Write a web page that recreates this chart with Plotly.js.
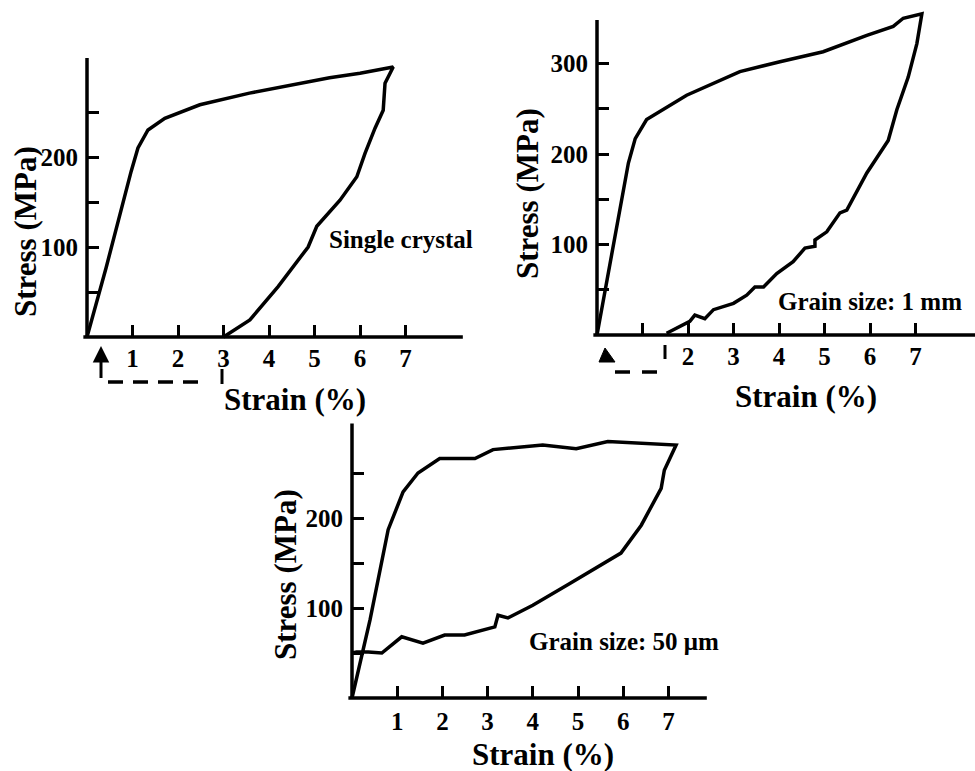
<!DOCTYPE html>
<html>
<head>
<meta charset="utf-8">
<script src="https://cdn.plot.ly/plotly-3.0.1.min.js"></script>
<style>html,body{margin:0;padding:0;background:#fff;}#chart{width:975px;height:771px;}</style>
</head>
<body>
<div id="chart"></div>
<script>
// ---------- DATA ----------
// Single crystal
const scLoadStrain   = [0, 0.42, 0.97, 1.12, 1.34, 1.71, 2.48, 3.57, 5.33, 6.0, 6.73];
const scLoadStress   = [0, 77, 184, 210, 230, 243, 258, 271, 288, 293, 300];
const scUnloadStrain = [6.73, 6.55, 6.51, 6.33, 6.11, 5.93, 5.56, 5.05, 4.86, 4.2, 3.58, 3.0];
const scUnloadStress = [300, 282, 252, 232, 204, 178, 152, 123, 100, 56, 19, 0];
// Grain size 1 mm
const mmLoadStrain   = [0, 0.37, 0.69, 0.84, 1.09, 1.97, 3.14, 4.02, 4.97, 5.93, 6.51, 6.73, 7.14];
const mmLoadStress   = [0, 101, 190, 217, 238, 265, 291, 302, 313, 331, 341, 350, 355];
const mmUnloadStrain = [7.14, 7.03, 6.84, 6.59, 6.40, 5.93, 5.49, 5.34, 5.05, 4.79, 4.79, 4.57, 4.31, 3.95, 3.66, 3.47, 3.29, 3.0, 2.56, 2.37, 2.15, 2.04, 1.53];
const mmUnloadStress = [355, 322, 285, 249, 215, 179, 138, 135, 114, 105, 98, 96, 81, 68, 53, 53, 44, 35, 28, 18, 22, 15, 2];
// Grain size 50 um
const umLoadStrain   = [0, 0.40, 0.80, 1.13, 1.46, 1.94, 2.72, 3.12, 4.22, 4.96, 5.66, 7.17];
const umLoadStress   = [0, 87, 187, 229, 250, 266, 266, 276, 281, 277, 285, 281];
const umUnloadStrain = [7.17, 6.91, 6.84, 6.40, 5.95, 4.81, 4.00, 3.45, 3.23, 3.16, 2.49, 2.05, 1.57, 1.10, 0.66, 0.36, 0.10, 0];
const umUnloadStress = [281, 253, 233, 192, 161, 127, 103, 89, 92, 79, 70, 70, 61, 68, 50, 51, 51, 50];

// Ticks
const strainTickVals = [1, 2, 3, 4, 5, 6, 7];
const p1StrainTickText = ['1', '2', '3', '4', '5', '6', '7'];
const p2StrainTickText = ['', '2', '3', '4', '5', '6', '7'];
const p3StrainTickText = ['1', '2', '3', '4', '5', '6', '7'];
const p1StressTickVals = [50, 100, 150, 200, 250];
const p1StressTickText = ['', '100', '', '200', ''];
const p2StressTickVals = [50, 100, 150, 200, 250, 300];
const p2StressTickText = ['', '100', '', '200', '', '300'];
const p3StressTickVals = [50, 100, 150, 200, 250];
const p3StressTickText = ['', '100', '', '200', ''];

const stressTitle = 'Stress (MPa)';
const strainTitle = 'Strain (%)';
const panelLabels = ['Single crystal', 'Grain size: 1 mm', 'Grain size: 50 \u03bcm'];

// ---------- LAYOUT GEOMETRY (pixels of the 975x771 page) ----------
const W = 975, H = 771;
const px = p => p / W;
const py = p => 1 - p / H;
const panels = [
  {x0: 87,  sx: 45.5, y0: 337, sy: 0.90,  dx: [80, 470],  dy: [342, 50],  xStart: -0.08, xEnd: 8.26, yTop: 310, xStand: 4},
  {x0: 597, sx: 45.5, y0: 335, sy: 0.905, dx: [588, 975], dy: [340, 5],   xStart: -0.08, xEnd: 8.31, yTop: 348, xStand: 4},
  {x0: 352, sx: 45.2, y0: 698, sy: 0.90,  dx: [343, 712], dy: [703, 415], xStart: -0.08, xEnd: 7.85, yTop: 305, xStand: 6}
];

const serif = "'Liberation Serif', 'Times New Roman', Times, serif";
const tickFont = {family: serif, size: 25, color: '#000', weight: 700};
const bold = arr => arr.map(s => s ? '<b>' + s + '</b>' : '');

function xAxis(p, tickText) {
  return {
    domain: [px(p.dx[0]), px(p.dx[1])],
    range: [(p.dx[0] - p.x0) / p.sx, (p.dx[1] - p.x0) / p.sx],
    anchor: 'free', position: py(p.y0),
    showline: false, showgrid: false, zeroline: false,
    ticks: 'inside', ticklen: 12, tickwidth: 3, tickcolor: '#000',
    tickmode: 'array', tickvals: strainTickVals, ticktext: bold(tickText),
    tickfont: tickFont, ticklabelstandoff: p.xStand, fixedrange: true
  };
}
function yAxis(p, vals, text) {
  return {
    domain: [py(p.dy[0]), py(p.dy[1])],
    range: [(p.y0 - p.dy[0]) / p.sy, (p.y0 - p.dy[1]) / p.sy],
    anchor: 'free', position: px(p.x0),
    showline: false, showgrid: false, zeroline: false,
    ticks: 'inside', ticklen: 11, tickwidth: 3, tickcolor: '#000',
    tickmode: 'array', tickvals: vals, ticktext: bold(text),
    tickfont: tickFont, ticklabelstandoff: 9, fixedrange: true
  };
}

const lineStyle = {color: '#000', width: 3.5};
const traces = [
  {x: scLoadStrain.concat(scUnloadStrain.slice(1)), y: scLoadStress.concat(scUnloadStress.slice(1)), xaxis: 'x', yaxis: 'y'},
  {x: mmLoadStrain.concat(mmUnloadStrain.slice(1)), y: mmLoadStress.concat(mmUnloadStress.slice(1)), xaxis: 'x2', yaxis: 'y2'},
  {x: umLoadStrain.concat(umUnloadStrain.slice(1)), y: umLoadStress.concat(umUnloadStress.slice(1)), xaxis: 'x3', yaxis: 'y3'}
].map(t => Object.assign(t, {type: 'scatter', mode: 'lines', line: lineStyle, hoverinfo: 'skip'}));

// axis lines drawn in each panel's own data coordinates
const axRefs = [['x', 'y'], ['x2', 'y2'], ['x3', 'y3']];
const shapes = [];
panels.forEach((p, i) => {
  const [xr, yr] = axRefs[i];
  shapes.push({type: 'line', xref: xr, yref: yr, x0: p.xStart, x1: p.xEnd, y0: 0, y1: 0, line: {color: '#000', width: 3.5}});
  shapes.push({type: 'line', xref: xr, yref: yr, x0: 0, x1: 0, y0: 0, y1: p.yTop, line: {color: '#000', width: 3.5}});
});
// decorative brackets under the strain axes (page pixels)
function pline(x0, y0, x1, y1, w, dash) {
  return {type: 'line', xref: 'paper', yref: 'paper', x0: px(x0), y0: py(y0), x1: px(x1), y1: py(y1), line: {color: '#000', width: w, dash: dash || 'solid'}};
}
shapes.push(pline(101, 358, 101, 378, 3));
shapes.push(pline(108, 382, 208, 382, 3.5, '15px,10px'));
shapes.push(pline(222, 369, 222, 384, 3));
shapes.push({type: 'path', xref: 'paper', yref: 'paper', fillcolor: '#000', line: {color: '#000', width: 1},
  path: 'M ' + px(599) + ',' + py(362) + ' L ' + px(615) + ',' + py(362) + ' L ' + px(605) + ',' + py(348) + ' Z'});
shapes.push(pline(615, 372, 630, 372, 3.5));
shapes.push(pline(642, 372, 657, 372, 3.5));
shapes.push(pline(665, 345, 665, 359, 3));

const titleFont = {family: serif, size: 31, color: '#000', weight: 700};
const labelFont = {family: serif, size: 25, color: '#000', weight: 700};
function ann(x, y, text, font, angle) {
  return {xref: 'paper', yref: 'paper', x: px(x), y: py(y), xanchor: 'center', yanchor: 'middle',
          text: '<b>' + text + '</b>', showarrow: false, font: font, textangle: angle || 0};
}
const annotations = [
  ann(25, 232, stressTitle, titleFont, -90),
  ann(527, 194, stressTitle, titleFont, -90),
  ann(285, 575, stressTitle, titleFont, -90),
  ann(295, 399, strainTitle, titleFont),
  ann(806, 397, strainTitle, titleFont),
  ann(543, 754, strainTitle, titleFont),
  ann(401, 239, panelLabels[0], labelFont),
  ann(870, 302, panelLabels[1], labelFont),
  ann(624, 641, panelLabels[2], labelFont),
  {xref: 'paper', yref: 'paper', x: px(101), y: py(346), ax: 0, ay: 16, text: '', showarrow: true,
   arrowhead: 2, arrowsize: 1.1, arrowwidth: 3, arrowcolor: '#000', standoff: 0}
];

const layout = {
  width: W, height: H, autosize: false,
  margin: {l: 0, r: 0, t: 0, b: 0, pad: 0},
  paper_bgcolor: '#fff', plot_bgcolor: 'rgba(0,0,0,0)',
  showlegend: false,
  xaxis: xAxis(panels[0], p1StrainTickText),
  yaxis: yAxis(panels[0], p1StressTickVals, p1StressTickText),
  xaxis2: xAxis(panels[1], p2StrainTickText),
  yaxis2: yAxis(panels[1], p2StressTickVals, p2StressTickText),
  xaxis3: xAxis(panels[2], p3StrainTickText),
  yaxis3: yAxis(panels[2], p3StressTickVals, p3StressTickText),
  shapes: shapes,
  annotations: annotations
};

Plotly.newPlot('chart', traces, layout, {displayModeBar: false, staticPlot: true});
</script>
</body>
</html>
